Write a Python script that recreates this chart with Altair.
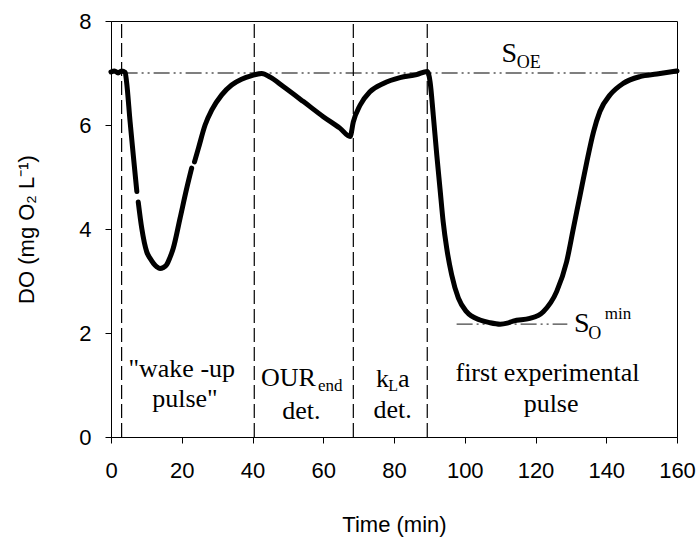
import altair as alt
import pandas as pd

# DO trace (time in min, DO in mg O2/L); seg marks data gaps
t_vals = [0, 1, 2, 3, 4, 4.4, 5.4, 6.3, 7.3,
          7.7, 8.7, 10.1, 11.0, 12.0, 13.0, 13.85, 14.8, 15.7, 16.6, 17.6, 19.5, 21.4, 22.8,
          23.6, 24.7, 26.6, 28.5, 31.3, 34.1, 36.9, 39.8, 42.6, 45, 48.7, 54.4, 60, 64.7, 67.6,
          68.5, 70.4, 73.2, 77, 81.7, 86.4, 89.4, 90.2, 91.1, 92.1, 93.0, 93.9, 94.9, 96.3,
          98.2, 100.5, 104.3, 107, 110, 112, 113.7, 118.4, 122.2, 126, 128.8, 130.7, 132.6,
          134.5, 136.4, 138.2, 141.1, 144.8, 149.5, 154.3, 160]
do_vals = [7.02, 7.04, 7.0, 7.04, 7.01, 6.83, 6.06, 5.42, 4.72,
           4.52, 4.01, 3.56, 3.44, 3.34, 3.27, 3.24, 3.26, 3.31, 3.44, 3.63, 4.2, 4.78, 5.17,
           5.29, 5.55, 6.0, 6.29, 6.58, 6.77, 6.88, 6.95, 6.99, 6.92, 6.74, 6.45, 6.16, 5.94, 5.78,
           6.06, 6.38, 6.64, 6.8, 6.91, 6.97, 7.03, 6.83, 6.19, 5.42, 4.78, 4.14, 3.63, 3.12,
           2.67, 2.41, 2.25, 2.2, 2.17, 2.19, 2.23, 2.28, 2.41, 2.8, 3.37, 4.01, 4.65,
           5.29, 5.87, 6.26, 6.58, 6.8, 6.93, 6.98, 7.04]
seg_vals = [0] * 9 + [1] * 14 + [2] * (len(t_vals) - 23)

# phase boundaries (min)
phase_bounds = [3.0, 40.5, 68.5, 89.4]

# reference levels
soe_level = 7.0
soe_range = [3.0, 160.0]
somin_level = 2.17
somin_range = [97.7, 129.0]

# annotation texts (centered)
center_text = ['"wake -up', 'pulse"', 'det.', 'det.', 'first experimental', 'pulse']
center_t = [20.0, 20.9, 53.8, 79.6, 123.4, 124.4]
center_y = [1.15, 0.58, 0.35, 0.37, 1.08, 0.48]
center_fs = [26, 26, 26, 26, 26, 26]

# annotation texts (left aligned pieces incl. sub/superscripts)
left_text = ['OUR', 'end', 'k', 'L', 'a', 'S', 'OE', 'S', 'O', 'min']
left_t = [42.4, 58.5, 74.9, 78.4, 81.1, 110.4, 114.7, 130.9, 134.9, 139.6]
left_y = [0.98, 0.885, 0.96, 0.885, 0.96, 7.21, 7.10, 2.025, 1.885, 2.27]
left_fs = [26, 17, 26, 16, 26, 28, 18, 28, 18, 17]

trace = pd.DataFrame({"t": t_vals, "do": do_vals, "seg": seg_vals})
bounds = pd.DataFrame({"t": phase_bounds, "y0": [0] * 4, "y1": [8] * 4})
hlines = pd.DataFrame({"t0": [soe_range[0], somin_range[0]],
                       "t1": [soe_range[1], somin_range[1]],
                       "y": [soe_level, somin_level],
                       "c": ["#000000", "#444444"]})
ctext = pd.DataFrame({"txt": center_text, "t": center_t, "y": center_y, "fs": center_fs})
ltext = pd.DataFrame({"txt": left_text, "t": left_t, "y": left_y, "fs": left_fs})

xscale = alt.Scale(domain=[0, 160], nice=False)
yscale = alt.Scale(domain=[0, 8], nice=False)

xaxis = alt.Axis(values=[0, 20, 40, 60, 80, 100, 120, 140, 160], title="Time (min)",
                 grid=False, labelFlush=False, labelPadding=17, titlePadding=33)
yaxis = alt.Axis(values=[0, 2, 4, 6, 8], title="DO (mg O₂ L⁻¹)", grid=False,
                 labelPadding=14, titlePadding=40)

vlines = alt.Chart(bounds).mark_rule(color="black", strokeWidth=1.2, strokeDash=[14, 5]).encode(
    x=alt.X("t:Q", scale=xscale, axis=xaxis),
    y=alt.Y("y0:Q", scale=yscale, axis=yaxis),
    y2="y1:Q",
)

hl = alt.Chart(hlines).mark_rule(strokeWidth=1.2, strokeDash=[16, 4, 2, 4, 2, 4]).encode(
    x=alt.X("t0:Q", scale=xscale),
    x2="t1:Q",
    y=alt.Y("y:Q", scale=yscale),
    color=alt.Color("c:N", scale=None),
)

line = alt.Chart(trace).mark_line(color="black", strokeWidth=5, strokeCap="round",
                                  strokeJoin="round", interpolate="monotone").encode(
    x=alt.X("t:Q", scale=xscale),
    y=alt.Y("do:Q", scale=yscale),
    detail="seg:N",
    order="t:Q",
)

ct = alt.Chart(ctext).mark_text(font="Liberation Serif", align="center",
                                baseline="alphabetic", color="black").encode(
    x=alt.X("t:Q", scale=xscale),
    y=alt.Y("y:Q", scale=yscale),
    text="txt:N",
    size=alt.Size("fs:Q", scale=None),
)

lt = alt.Chart(ltext).mark_text(font="Liberation Serif", align="left",
                                baseline="alphabetic", color="black").encode(
    x=alt.X("t:Q", scale=xscale),
    y=alt.Y("y:Q", scale=yscale),
    text="txt:N",
    size=alt.Size("fs:Q", scale=None),
)

chart = alt.layer(vlines, hl, line, ct, lt).properties(
    width=566, height=416,
    autosize=alt.AutoSizeParams(type="none"),
    padding={"left": 111, "top": 21, "right": 23, "bottom": 101},
).configure_view(
    stroke="black", strokeWidth=1
).configure_axis(
    domainColor="black", tickColor="black", tickSize=6,
    labelFont="Liberation Sans", labelFontSize=22, labelColor="black",
    titleFont="Liberation Sans", titleFontSize=22, titleFontWeight="normal", titleColor="black",
)

chart.save("out.html", embed_options={"renderer": "svg", "actions": False})
